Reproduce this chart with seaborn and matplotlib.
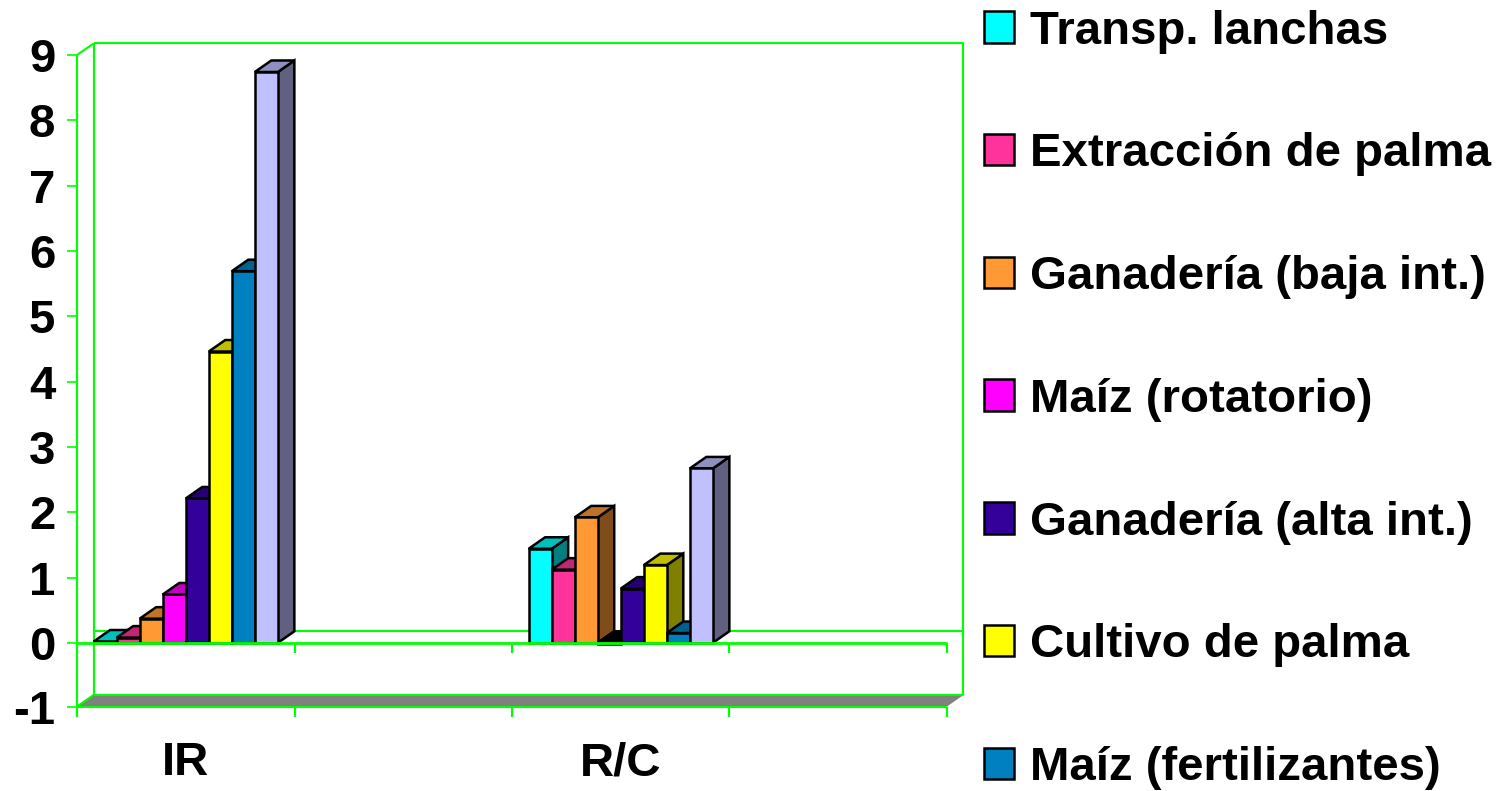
import pandas as pd
import seaborn as sns
import matplotlib.pyplot as plt
from matplotlib.patches import Polygon
from matplotlib.colors import to_rgb

categories = ["IR", "R/C"]
category_slots = ["IR", " ", "R/C", "  "]
series_names = [
    "Transp. lanchas",
    "Extracción de palma",
    "Ganadería (baja int.)",
    "Maíz (rotatorio)",
    "Ganadería (alta int.)",
    "Cultivo de palma",
    "Maíz (fertilizantes)",
    "Serie 8",  # cut off at the bottom of the picture
]
ir_values = [0.02, 0.08, 0.37, 0.74, 2.21, 4.46, 5.69, 8.74]
rc_values = [1.44, 1.12, 1.92, -0.02, 0.83, 1.19, 0.15, 2.67]
colors = ["#00FFFF", "#FF3399", "#FF9933", "#FF00FF", "#330099", "#FFFF00", "#0080C0", "#C0C0FF"]
y_ticks = [-1, 0, 1, 2, 3, 4, 5, 6, 7, 8, 9]

df = pd.DataFrame({
    "categoria": [categories[0]] * 8 + [categories[1]] * 8,
    "serie": series_names * 2,
    "valor": ir_values + rc_values,
})

sns.set_style("white")
plt.rcParams["font.family"] = ["Liberation Sans", "DejaVu Sans"]
plt.rcParams["font.weight"] = "bold"
plt.rcParams["text.color"] = "black"
plt.rcParams["xtick.labelcolor"] = "black"
plt.rcParams["ytick.labelcolor"] = "black"

W, H = 1501, 791
fig = plt.figure(figsize=(W / 100, H / 100), dpi=100)
ax = fig.add_axes([77 / W, 1 - 706.5 / H, 870 / W, 651.5 / H])
green = "#00FF00"
font_size = 34.15

sns.barplot(
    data=df, x="categoria", y="valor", hue="serie",
    order=category_slots, hue_order=series_names, palette=colors,
    saturation=1, width=0.847, gap=0, edgecolor="black", linewidth=1.8,
    legend=False, ax=ax,
)

y_bottom = -0.975
ax.set_xlim(-0.5, 3.5)
ax.set_ylim(y_bottom, 9)
ax.set_xlabel("")
ax.set_ylabel("")
sns.despine(ax=ax, left=True, bottom=True, top=True, right=True)
ax.patch.set_alpha(0)

# depth of the fake 3D box, in data units
dx = 16.5 / 217.5
dy = 11.5 / 65.3
x0, x1 = -0.5, 3.5


def wall(xs, ys, lw=1.5, z=1):
    ax.plot(xs, ys, color=green, lw=lw, clip_on=False, zorder=z, solid_capstyle="butt")


# floor and walls
ax.add_patch(Polygon(
    [(x0, y_bottom), (x0 + dx, y_bottom + dy), (x1 + dx, y_bottom + dy), (x1, y_bottom)],
    facecolor="#808080", edgecolor="none", clip_on=False, zorder=1,
))
wall([x0 + dx, x1 + dx, x1 + dx, x0 + dx, x0 + dx],
     [9 + dy, 9 + dy, y_bottom + dy, y_bottom + dy, 9 + dy])
wall([x0, x0 + dx], [9, 9 + dy])
wall([x0, x0 + dx], [y_bottom, y_bottom + dy])
wall([x0 + dx, x1 + dx], [dy, dy])
wall([x0, x0], [y_bottom - 10 / 65.3, 9])
wall([x0, x1], [y_bottom, y_bottom], z=2)


def shade(color, k):
    return tuple(c * k for c in to_rgb(color))


# side and top faces for every bar, left bars first
for i, (container, color) in enumerate(zip(ax.containers, colors)):
    for bar in container:
        h = bar.get_height()
        if pd.isna(h):
            continue
        left = bar.get_x()
        right = left + bar.get_width()
        top = max(h, 0)
        top_color = "black" if h < 0 else shade(color, 0.75)
        side_color = "black" if h < 0 else shade(color, 0.5)
        z = 3 + i
        bar.set_zorder(z + 0.2)
        ax.add_patch(Polygon(
            [(right, 0), (right + dx, dy), (right + dx, top + dy), (right, top)],
            facecolor=side_color, edgecolor="black", lw=1.8, zorder=z, clip_on=False,
        ))
        ax.add_patch(Polygon(
            [(left, top), (left + dx, top + dy), (right + dx, top + dy), (right, top)],
            facecolor=top_color, edgecolor="black", lw=1.8, zorder=z, clip_on=False,
        ))

# front zero line goes over the feet of the bars
wall([x0, x1], [0, 0], lw=2, z=20)
for b in [x0, 0.5, 1.5, 2.5, x1]:
    wall([b, b], [-10 / 65.3, 0], z=2)
    wall([b, b], [y_bottom - 10 / 65.3, y_bottom], z=2)

ax.set_yticks([y_bottom if t == -1 else t for t in y_ticks])
ax.set_yticklabels([str(t) for t in y_ticks], fontsize=font_size, fontweight="bold")
ax.tick_params(axis="y", left=True, color=green, length=7.2, width=1.2, pad=8.5)
ax.set_xticks([0, 2])
ax.set_xticklabels(categories, fontsize=font_size, fontweight="bold")
ax.tick_params(axis="x", bottom=False, length=0, pad=25)

# only seven entries fit in the picture
ax.legend(
    handles=list(ax.containers)[:7], labels=series_names[:7],
    loc="upper left", bbox_to_anchor=(984 / W, 1 - 9.5 / H), bbox_transform=fig.transFigure,
    frameon=False, prop={"weight": "bold", "size": font_size},
    handlelength=0.64, handleheight=0.64, handletextpad=0.32,
    labelspacing=1.661, borderpad=0, borderaxespad=0,
)

fig.savefig("out.png", dpi=100)
plt.close()
